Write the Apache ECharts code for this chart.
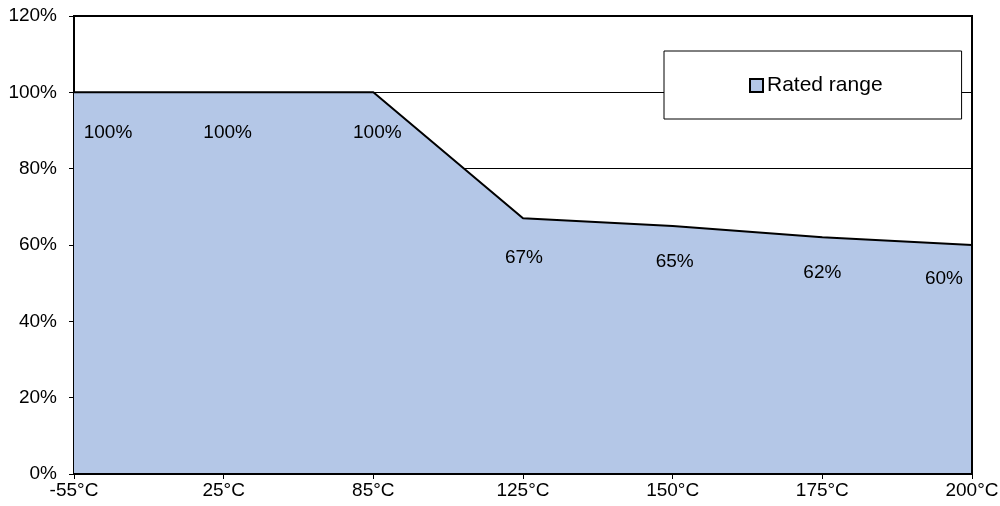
<!DOCTYPE html>
<html><head><meta charset="utf-8">
<script src="https://cdn.jsdelivr.net/npm/echarts@6/dist/echarts.min.js"></script>
<style>html,body{margin:0;padding:0;background:#fff}#c{width:1000px;height:506px}</style>
</head><body><div id="c"></div>
<script>
const categories = ['-55°C','25°C','85°C','125°C','150°C','175°C','200°C'];
const ratedRange = [100, 100, 100, 67, 65, 62, 60];
const yTicks = [0, 20, 40, 60, 80, 100, 120];

// label nudges (pixels) to mimic the original label placement
const labelNudgeX = [34, 4, 4, 1, 2, 0, -28];
const labelNudgeY = [3, 3, 3, 2, -2, -2, -4];

const font = 'Liberation Sans, Arial, sans-serif';
const chart = echarts.init(document.getElementById('c'), null, {renderer:'canvas'});
const data = ratedRange.map((v, i) => ({value: v, label: {offset: [labelNudgeX[i], labelNudgeY[i]]}}));
chart.setOption({
  animation: false,
  backgroundColor: '#fff',
  grid: {left: 74, right: 28, top: 16, bottom: 32, outerBoundsMode: 'none', containLabel: false,
         show: true, borderColor: '#000', borderWidth: 2, backgroundColor: 'transparent'},
  legend: {
    data: ['Rated range'],
    left: 664, top: 51,
    padding: [24, 79, 23, 85],
    backgroundColor: '#fff', borderColor: '#000', borderWidth: 1,
    icon: 'rect', itemWidth: 13, itemHeight: 13, itemGap: 4,
    itemStyle: {borderColor: '#000', borderWidth: 2},
    textStyle: {fontFamily: font, fontSize: 21, color: '#000', padding: [0,0,0,-1]}
  },
  xAxis: [{
    type: 'category', data: categories, boundaryGap: false, z: 10,
    axisLine: {lineStyle: {color: '#000', width: 2}},
    axisTick: {show: true, length: 5, lineStyle: {color: '#000', width: 1}, alignWithLabel: true},
    axisLabel: {fontFamily: font, fontSize: 19, color: '#000', margin: 7},
    splitLine: {show: false}
  }],
  yAxis: [{
    type: 'value', min: yTicks[0], max: yTicks[yTicks.length-1], interval: yTicks[1]-yTicks[0],
    axisLine: {show: true, lineStyle: {color: '#000', width: 2}},
    axisTick: {show: true, length: 5, lineStyle: {color: '#000', width: 1}},
    axisLabel: {fontFamily: font, fontSize: 19, color: '#000', margin: 17, formatter: '{value}%'},
    splitLine: {show: true, lineStyle: {color: '#000', width: 1}}
  }, {
    type: 'value', position: 'right', min: yTicks[0], max: yTicks[yTicks.length-1], z: 10,
    axisLine: {show: true, lineStyle: {color: '#000', width: 2}},
    axisTick: {show: false}, axisLabel: {show: false}, splitLine: {show: false}
  }],
  series: [{
    name: 'Rated range', type: 'line', data: data, symbol: 'circle', symbolSize: 0, showSymbol: true, z: 3,
    lineStyle: {color: '#000', width: 2},
    itemStyle: {color: '#b4c7e7'},
    areaStyle: {color: '#b4c7e7', opacity: 1},
    label: {show: true, position: 'bottom', distance: 28, formatter: '{c}%', fontFamily: font, fontSize: 19, color: '#000'}
  }]
});
</script></body></html>
